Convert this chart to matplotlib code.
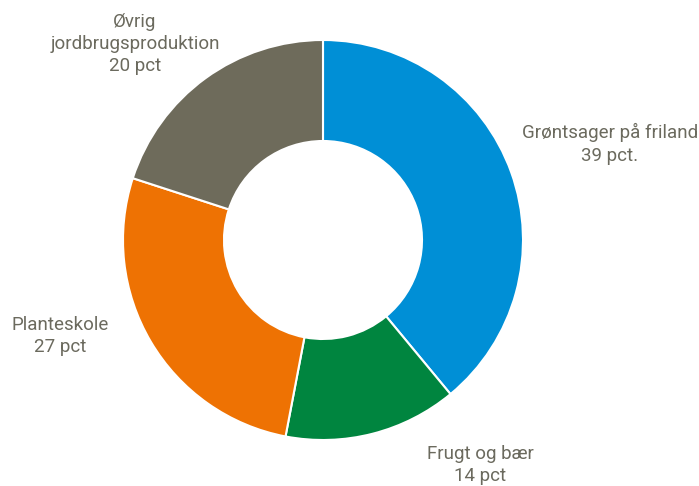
import matplotlib
matplotlib.use("Agg")
import matplotlib.pyplot as plt

labels = ["Grøntsager på friland\n39 pct.", "Frugt og bær\n14 pct",
          "Planteskole\n27 pct", "Øvrig\njordbrugsproduktion\n20 pct"]
values = [39, 14, 27, 20]
colors = ["#008FD6", "#00853F", "#EE7203", "#6E6B5B"]
# label centres in pixel coords (x, y from top)
label_pos = [(610, 144), (480, 465), (60, 336), (135, 44)]

plt.rcParams["font.family"] = ["Liberation Sans Narrow", "Roboto", "DejaVu Sans"]

fig = plt.figure(figsize=(6.99, 4.86), dpi=100)
ax = fig.add_axes([0, 0, 1, 1])

ax.pie(values, colors=colors, startangle=90, counterclock=False,
       center=(323, 246), radius=200, frame=True,
       wedgeprops=dict(width=101, edgecolor="white", linewidth=1.5))
ax.set_xlim(0, 699)
ax.set_ylim(0, 486)
ax.set_aspect("equal")
ax.axis("off")

for lab, (x, y) in zip(labels, label_pos):
    ax.text(x, 486 - y, lab, ha="center", va="center", fontsize=13.5,
            color="#6B6A5E", linespacing=1.3)

fig.savefig("out.png", dpi=100)
